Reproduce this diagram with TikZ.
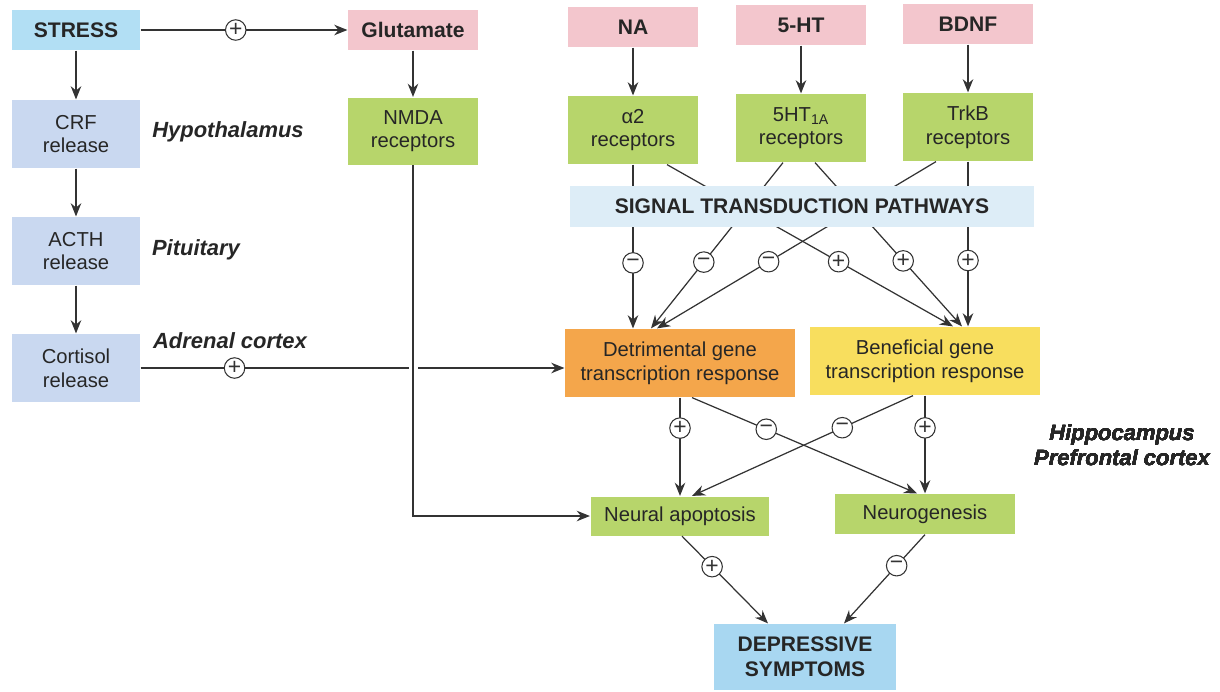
\documentclass[tikz,border=0pt]{standalone}
\usepackage{fontspec}
\setmainfont{Liberation Sans}
\usetikzlibrary{arrows.meta, calc}
\definecolor{stressc}{HTML}{B2DFF4}
\definecolor{hpac}{HTML}{C9D8F0}
\definecolor{pinkc}{HTML}{F3C6CD}
\definecolor{greenc}{HTML}{B7D56B}
\definecolor{sigc}{HTML}{DDEDF7}
\definecolor{detc}{HTML}{F4A64B}
\definecolor{benc}{HTML}{F8DE5E}
\definecolor{depc}{HTML}{A8D7F1}
\definecolor{inkc}{HTML}{262626}
\definecolor{linec}{HTML}{333333}
\tikzset{
  blk/.style={rectangle, inner sep=1pt, align=center, text=inkc,
              font=\fontsize{11.5}{13.5}\selectfont},
  bblk/.style={blk, font=\fontsize{12}{14}\selectfont\bfseries},
  site/.style={text=inkc, align=center,
               font=\fontsize{12.5}{14.2}\selectfont\bfseries\itshape},
  sgn/.style={circle, draw=linec, fill=white, line width=0.6pt,
              inner sep=0pt, minimum size=4.1mm, text=linec,
              font=\fontsize{13}{13}\selectfont},
}
\newcommand{\blk}[7][blk]{%
  \node[#1, fill=#4, minimum width=#5, minimum height=#6] (#2) at #3 {#7};
}

\begin{document}
\begin{tikzpicture}[x=0.02cm, y=-0.02cm, >={Stealth[length=7.5pt,width=6pt]},
      line width=0.7pt, color=linec]
    \useasboundingbox (0,0) rectangle (1220,691);
    % HPA axis
    \blk[bblk]{stress}{(76,30)}{stressc}{2.56cm}{0.8cm}{STRESS}
    \blk{crf}{(76,134)}{hpac}{2.56cm}{1.36cm}{CRF\\release}
    \blk{acth}{(76,251)}{hpac}{2.56cm}{1.36cm}{ACTH\\release}
    \blk{cort}{(76,368)}{hpac}{2.56cm}{1.36cm}{Cortisol\\release}
    \node[site] (hypo) at (228,132) {Hypothalamus};
    \node[site] (pit) at (196,250) {Pituitary};
    \node[site] (adr) at (230,341) {Adrenal cortex};
    % transmitters and receptors
    \blk[bblk]{glu}{(413,30)}{pinkc}{2.6cm}{0.8cm}{Glutamate}
    \blk{nmda}{(413,131)}{greenc}{2.6cm}{1.34cm}{NMDA\\receptors}
    \foreach \n/\x/\y/\t in {na/633/27/NA, ht/801/25/5-HT, bdnf/968/24/BDNF}
      \blk[bblk]{\n}{(\x,\y)}{pinkc}{2.6cm}{0.8cm}{\t}
    \foreach \n/\x/\y/\t in {atwo/633/130/{α2\\receptors},
        htr/801/128/{5HT\textsubscript{1A}\\receptors},
        trkb/968/127/{TrkB\\receptors}}
      \blk{\n}{(\x,\y)}{greenc}{2.6cm}{1.36cm}{\t}
    % gene response and outcome
    \blk{det}{(680,363)}{detc}{4.6cm}{1.36cm}{Detrimental gene\\transcription response}
    \blk{ben}{(925,361)}{benc}{4.6cm}{1.36cm}{Beneficial gene\\transcription response}
    \blk{apo}{(680,516)}{greenc}{3.58cm}{0.78cm}{Neural apoptosis}
    \blk{neuro}{(925,514)}{greenc}{3.6cm}{0.8cm}{Neurogenesis}
    \blk[bblk]{dep}{(805,657)}{depc}{3.64cm}{1.32cm}{DEPRESSIVE\\SYMPTOMS}
    \node[site] (hip) at (1122,445) {Hippocampus\\Prefrontal cortex};

    \foreach \a/\b in {stress/crf, crf/acth, acth/cort, glu/nmda,
                       na/atwo, ht/htr, bdnf/trkb}
      \draw[->] (\a) -- (\b);
    \draw[->] (stress.east) -- node[sgn, pos=.46] (s0) {+} (glu.west);
    \draw (cort.east) -- node[sgn, pos=.35] (s1) {+}
          ($(cort.east -| nmda.south)+(-4,0)$);
    \draw[->] ($(cort.east -| nmda.south)+(5,0)$) -- (cort.east -| det.west);
    \draw[->] (nmda.south) |- (apo.west);

    % receptors to gene response, behind the pathway box
    \draw[->] (atwo.south) -- node[sgn, pos=.6] (m1) {−} (atwo.south |- det.north);
    \draw[->] ($(atwo.south)+(34,0)$) -- node[sgn, pos=.6] (p1) {+} ($(ben.north)+(28,0)$);
    \draw[->] ($(htr.south)+(-18,0)$) -- node[sgn, pos=.6] (m2) {−} ($(det.north)+(-29,0)$);
    \draw[->] ($(htr.south)+(14,0)$) -- node[sgn, pos=.6] (p2) {+} ($(ben.north)+(37,0)$);
    \draw[->] ($(trkb.south)+(-32,0)$) -- node[sgn, pos=.6] (m3) {−} ($(det.north)+(-23,0)$);
    \draw[->] (trkb.south) -- node[sgn, pos=.6] (p3) {+} (trkb.south |- ben.north);
    \blk[bblk]{sig}{(802,206)}{sigc}{9.3cm}{0.82cm}{SIGNAL TRANSDUCTION PATHWAYS}

    \draw[->] (det.south) -- node[sgn, pos=.31] (p4) {+} (det.south |- apo.north);
    \draw[->] ($(det.south)+(12,0)$) -- node[sgn, pos=.33] (m4) {−} ($(neuro.north)+(-8,0)$);
    \draw[->] ($(ben.south)+(-12,0)$) -- node[sgn, pos=.32] (m5) {−} ($(apo.north)+(12,0)$);
    \draw[->] (ben.south) -- node[sgn, pos=.33] (p5) {+} (ben.south |- neuro.north);
    \draw[->] ($(apo.south)+(2,0)$) -- node[sgn, pos=.35] (p6) {+} ($(dep.north)+(-37,0)$);
    \draw[->] (neuro.south) -- node[sgn, pos=.35] (m6) {−} ($(dep.north)+(39,0)$);
  \end{tikzpicture}
\end{document}
